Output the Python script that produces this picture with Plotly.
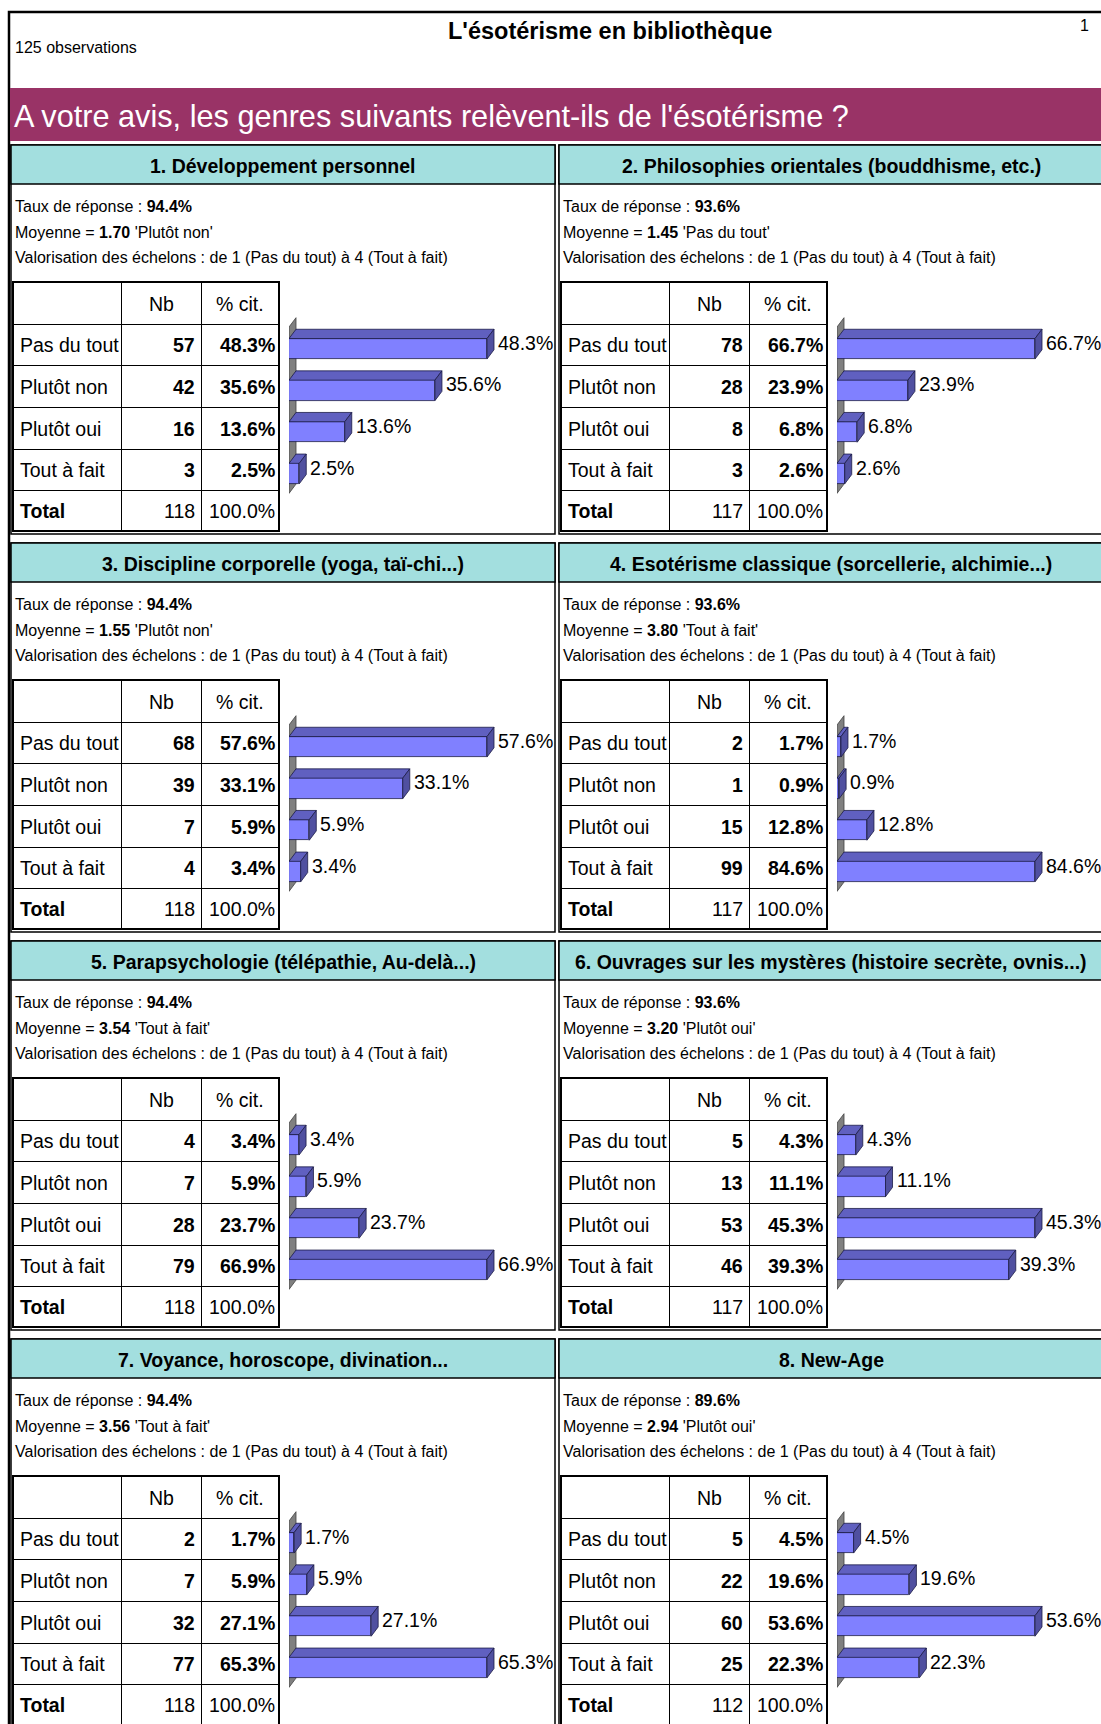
import plotly.graph_objects as go

W, H = 1101, 1724
FONT = "Liberation Sans, Arial, sans-serif"

# ---------------- data ----------------
categories = ["Pas du tout", "Plutôt non", "Plutôt oui", "Tout à fait"]
titles = [
    "1. Développement personnel",
    "2. Philosophies orientales (bouddhisme, etc.)",
    "3. Discipline corporelle (yoga, taï-chi...)",
    "4. Esotérisme classique (sorcellerie, alchimie...)",
    "5. Parapsychologie (télépathie, Au-delà...)",
    "6. Ouvrages sur les mystères (histoire secrète, ovnis...)",
    "7. Voyance, horoscope, divination...",
    "8. New-Age",
]
taux = ["94.4%", "93.6%", "94.4%", "93.6%", "94.4%", "93.6%", "94.4%", "89.6%"]
moyenne = ["1.70", "1.45", "1.55", "3.80", "3.54", "3.20", "3.56", "2.94"]
moyenne_label = ["Plutôt non", "Pas du tout", "Plutôt non", "Tout à fait",
                 "Tout à fait", "Plutôt oui", "Tout à fait", "Plutôt oui"]
nb = [
    [57, 42, 16, 3],
    [78, 28, 8, 3],
    [68, 39, 7, 4],
    [2, 1, 15, 99],
    [4, 7, 28, 79],
    [5, 13, 53, 46],
    [2, 7, 32, 77],
    [5, 22, 60, 25],
]
pct = [
    [48.3, 35.6, 13.6, 2.5],
    [66.7, 23.9, 6.8, 2.6],
    [57.6, 33.1, 5.9, 3.4],
    [1.7, 0.9, 12.8, 84.6],
    [3.4, 5.9, 23.7, 66.9],
    [4.3, 11.1, 45.3, 39.3],
    [1.7, 5.9, 27.1, 65.3],
    [4.5, 19.6, 53.6, 22.3],
]
totals = [118, 117, 118, 117, 118, 117, 118, 112]
header_labels = ["", "Nb", "% cit."]
total_label = "Total"
total_pct = "100.0%"
main_title = "L'ésotérisme en bibliothèque"
question = "A votre avis, les genres suivants relèvent-ils de l'ésotérisme ?"
observations = "125 observations"
page_number = "1"
echelons = "Valorisation des échelons : de 1 (Pas du tout) à 4 (Tout à fait)"

# ---------------- styling ----------------
C_FRONT = "#8080FF"
C_TOP = "#6060C0"
C_SIDE = "#5050A0"
C_WALL = "#808080"
C_EDGE = "#1c1c48"
C_HEAD = "#A3DFDF"
C_BAND = "#993366"
S_TAB = 19.5
S_INFO = 16
S_TITLE = 19.5


def px(x):
    return x / W


def py(y):
    return 1 - y / H


fig = go.Figure()
shapes = []
ann = []

# page frame and top band
shapes.append(dict(type="rect", xref="paper", yref="paper", x0=px(9), x1=px(1120),
                   y0=py(12), y1=py(1760), line=dict(color="black", width=2.5)))
shapes.append(dict(type="rect", xref="paper", yref="paper", x0=px(10), x1=px(1110),
                   y0=py(88), y1=py(141), fillcolor=C_BAND, line=dict(width=0)))
ann.append(dict(xref="paper", yref="paper", x=px(13), y=py(47), xanchor="left", yanchor="middle",
                text=observations, showarrow=False, font=dict(family=FONT, size=16, color="black")))
ann.append(dict(xref="paper", yref="paper", x=px(610), y=py(31), xanchor="center", yanchor="middle",
                text="<b>" + main_title + "</b>", showarrow=False,
                font=dict(family=FONT, size=23.5, color="black")))
ann.append(dict(xref="paper", yref="paper", x=px(1091), y=py(26), xanchor="right", yanchor="middle",
                text=page_number, showarrow=False, font=dict(family=FONT, size=16, color="black")))
ann.append(dict(xref="paper", yref="paper", x=px(12), y=py(116), xanchor="left", yanchor="middle",
                text=question, showarrow=False, font=dict(family=FONT, size=30.7, color="white")))

ROW = 41.6          # px per category in bar charts
FRONT_OFF = 4.0     # px offset of front face centre below row centre
FRONT_H = 20.5      # px bar thickness
DX, DY = 7.0, 9.3   # px depth of 3D effect
BAR_W = 262.0       # px width of bar plotting area
BAR_MAX = 198.0     # px length of the longest bar
TAB_W = [107, 80, 77]                             # column widths (px)
TAB_RH = [41.3, 41.7, 41.7, 41.7, 41.7, 39.3]     # row heights (px)

layout_axes = {}
for k in range(8):
    col, row = k % 2, k // 2
    PL = 11 + 548 * col
    T = 145 + 398 * row
    n = "" if k == 0 else str(k + 1)
    m = str(k + 9)

    # panel frame + header
    shapes.append(dict(type="rect", xref="paper", yref="paper", x0=px(PL), x1=px(PL + 544),
                       y0=py(T), y1=py(T + 389), line=dict(color="black", width=1.5)))
    shapes.append(dict(type="rect", xref="paper", yref="paper", x0=px(PL), x1=px(PL + 544),
                       y0=py(T), y1=py(T + 39), fillcolor=C_HEAD, line=dict(color="black", width=1.5)))
    ann.append(dict(xref="paper", yref="paper", x=px(PL + 272), y=py(T + 21), xanchor="center",
                    yanchor="middle", text="<b>" + titles[k] + "</b>", showarrow=False,
                    font=dict(family=FONT, size=S_TITLE, color="black")))
    info = [
        "Taux de réponse : <b>" + taux[k] + "</b>",
        "Moyenne = <b>" + moyenne[k] + "</b> '" + moyenne_label[k] + "'",
        echelons,
    ]
    for j, t in enumerate(info):
        ann.append(dict(xref="paper", yref="paper", x=px(PL + 2), y=py(T + 61.5 + 25.5 * j),
                        xanchor="left", yanchor="middle", text=t, showarrow=False,
                        font=dict(family=FONT, size=S_INFO, color="black")))

    # ---- table drawn on its own axes (px units inside the table) ----
    ttop = T + 137.7
    rb = [0.0]
    for h in TAB_RH:
        rb.append(rb[-1] + h)
    tbot = min(ttop + rb[-1], H)
    bounds = [0, TAB_W[0], TAB_W[0] + TAB_W[1], sum(TAB_W)]
    layout_axes["xaxis" + m] = dict(domain=[px(PL + 3), px(PL + 3 + sum(TAB_W))],
                                    range=[0, sum(TAB_W)], anchor="y" + m, fixedrange=True,
                                    tickvals=bounds[1:3], showticklabels=False, ticks="",
                                    showgrid=True, gridcolor="black", gridwidth=1, zeroline=False,
                                    showline=True, mirror=True, linecolor="black", linewidth=1.5)
    layout_axes["yaxis" + m] = dict(domain=[py(tbot), py(ttop)],
                                    range=[tbot - ttop, 0], anchor="x" + m,
                                    fixedrange=True, tickvals=rb[1:-1],
                                    showticklabels=False, ticks="", showgrid=True,
                                    gridcolor="black", gridwidth=1, zeroline=False,
                                    showline=True, mirror=True, linecolor="black", linewidth=1.5)
    fig.add_trace(go.Scatter(x=[None], y=[None], xaxis="x" + m, yaxis="y" + m,
                             hoverinfo="skip", showlegend=False))

    def cell(text, c, r, align):
        if align == "left":
            x, xa = bounds[c] + 4, "left"
        elif align == "right":
            x, xa = bounds[c + 1] - (4 if c == 1 else 1.5), "right"
        else:
            x, xa = (bounds[c] + bounds[c + 1]) / 2, "center"
        ann.append(dict(xref="x" + m, yref="y" + m, x=x, y=(rb[r] + rb[r + 1]) / 2 + 0.5,
                        xanchor=xa, yanchor="middle", text=text, showarrow=False,
                        font=dict(family=FONT, size=S_TAB, color="black")))

    for c, h in enumerate(header_labels):
        if h:
            cell(h, c, 0, "center")
    for i, lab in enumerate(categories):
        cell(lab, 0, i + 1, "left")
        cell("<b>%d</b>" % nb[k][i], 1, i + 1, "right")
        cell("<b>%.1f%%</b>" % pct[k][i], 2, i + 1, "right")
    rt = len(categories) + 1
    cell("<b>" + total_label + "</b>", 0, rt, "left")
    cell(str(totals[k]), 1, rt, "right")
    cell(total_pct, 2, rt, "right")

    # ---- bar chart axes ----
    vmax = max(pct[k])
    xmax = vmax * BAR_W / BAR_MAX
    ux = xmax / BAR_W          # data units per px (x)
    uy = 1.0 / ROW             # data units per px (y)
    top_px, bot_px = T + 165, T + 355
    c0 = T + 199.8
    yr = [(bot_px - c0) / ROW, (top_px - c0) / ROW]
    layout_axes["xaxis" + n] = dict(domain=[px(PL + 278), px(PL + 278 + BAR_W)], range=[0, xmax],
                                    visible=False, fixedrange=True, anchor="y" + n)
    layout_axes["yaxis" + n] = dict(domain=[py(bot_px), py(top_px)], range=yr,
                                    visible=False, fixedrange=True, anchor="x" + n)

    # back wall
    off = 3.0 * uy
    wf_top, wf_bot = -0.5 + off, len(categories) - 0.5 + off
    shapes.append(dict(type="path", xref="x" + n, yref="y" + n, layer="below",
                       path="M 0,%f L 0,%f L %f,%f L %f,%f Z" % (
                           wf_bot, wf_top, DX * ux, wf_top - DY * uy, DX * ux, wf_bot - DY * uy),
                       fillcolor=C_WALL, line=dict(color="#404040", width=0.8)))

    ypos = [i + FRONT_OFF * uy for i in range(len(categories))]
    # front faces
    fig.add_trace(go.Bar(x=pct[k], y=ypos, orientation="h", width=FRONT_H * uy,
                         marker=dict(color=C_FRONT, line=dict(color=C_EDGE, width=0.8)),
                         xaxis="x" + n, yaxis="y" + n, hoverinfo="skip", showlegend=False))
    # top and side faces
    tx, ty, sx, sy = [], [], [], []
    for i, v in enumerate(pct[k]):
        yt = ypos[i] - FRONT_H * uy / 2
        yb = ypos[i] + FRONT_H * uy / 2
        tx += [0, v, v + DX * ux, DX * ux, 0, None]
        ty += [yt, yt, yt - DY * uy, yt - DY * uy, yt, None]
        sx += [v, v + DX * ux, v + DX * ux, v, v, None]
        sy += [yt, yt - DY * uy, yb - DY * uy, yb, yt, None]
        ann.append(dict(xref="x" + n, yref="y" + n, x=v + (DX + 2) * ux, y=i - 2 * uy,
                        xanchor="left", yanchor="middle", text="%.1f%%" % v, showarrow=False,
                        font=dict(family=FONT, size=S_TAB, color="black")))
    fig.add_trace(go.Scatter(x=tx, y=ty, mode="lines", fill="toself", fillcolor=C_TOP,
                             line=dict(color=C_EDGE, width=0.8), xaxis="x" + n, yaxis="y" + n,
                             hoverinfo="skip", showlegend=False))
    fig.add_trace(go.Scatter(x=sx, y=sy, mode="lines", fill="toself", fillcolor=C_SIDE,
                             line=dict(color=C_EDGE, width=0.8), xaxis="x" + n, yaxis="y" + n,
                             hoverinfo="skip", showlegend=False))

fig.update_layout(
    width=W, height=H, margin=dict(l=0, r=0, t=0, b=0, pad=0),
    paper_bgcolor="white", plot_bgcolor="rgba(0,0,0,0)",
    shapes=shapes, annotations=ann, showlegend=False, bargap=0,
    font=dict(family=FONT, color="black"),
    **layout_axes,
)

fig.write_html("out.html", config={"displayModeBar": False},
               post_script="document.body.style.margin='0';")
